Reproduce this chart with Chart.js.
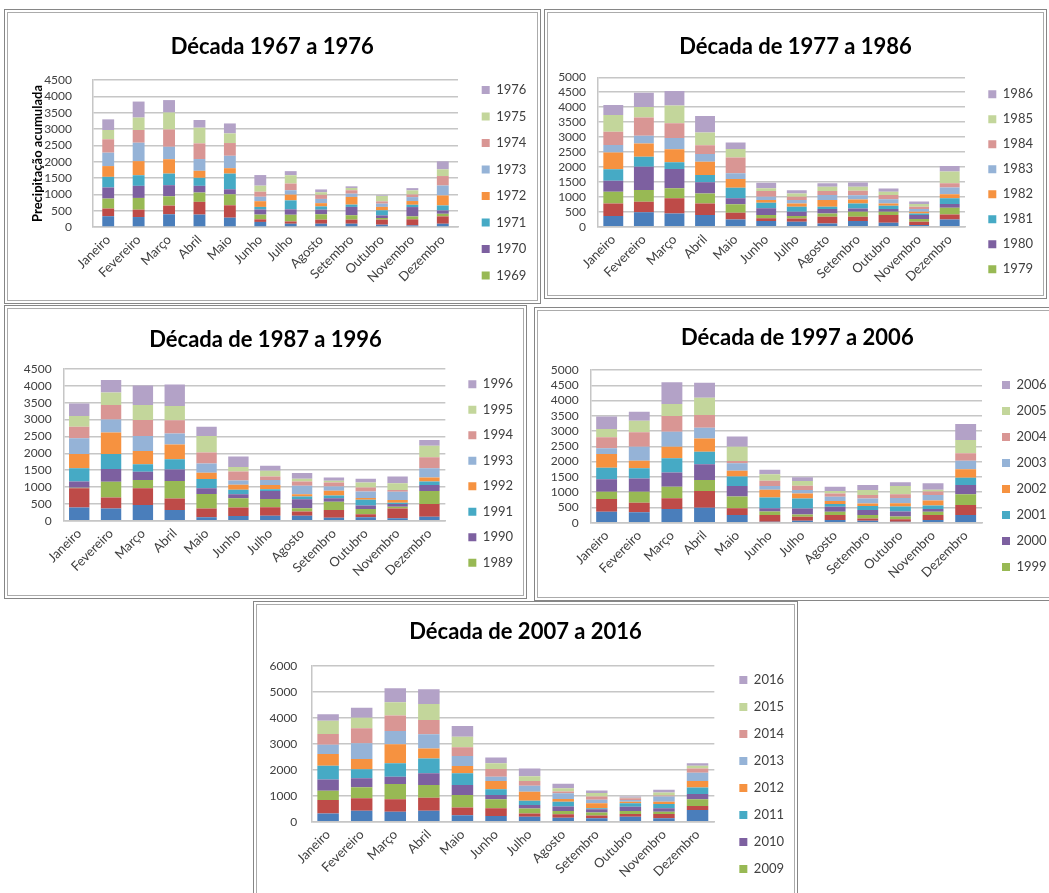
<!DOCTYPE html>
<html>
<head>
<meta charset="utf-8">
<title>Precipitação acumulada por década</title>
<script src="https://cdn.jsdelivr.net/npm/chart.js@4.4.0/dist/chart.umd.min.js"></script>
<style>
  html, body { margin: 0; padding: 0; background: #fff; overflow: hidden; }
  .panel { position: absolute; box-sizing: border-box; border: 1px solid #868686; padding: 2px; background: #fff; }
  .panel .inner { box-sizing: border-box; width: 100%; height: 100%; border: 1px solid #ababab; }
  canvas { display: block; }
</style>
</head>
<body>
<div class="panel" style="left:4px;top:9px;width:537px;height:295px"><div class="inner"><canvas id="dec1" width="529" height="287"></canvas></div></div>
<div class="panel" style="left:544px;top:9px;width:503px;height:290px"><div class="inner"><canvas id="dec2" width="495" height="282"></canvas></div></div>
<div class="panel" style="left:4px;top:305px;width:523px;height:294px"><div class="inner"><canvas id="dec3" width="515" height="286"></canvas></div></div>
<div class="panel" style="left:534px;top:307px;width:532px;height:294px"><div class="inner"><canvas id="dec4" width="524" height="286"></canvas></div></div>
<div class="panel" style="left:253px;top:601px;width:545px;height:300px"><div class="inner"><canvas id="dec5" width="537" height="292"></canvas></div></div>

<script>
const MONTHS = ['Janeiro', 'Fevereiro', 'Março', 'Abril', 'Maio', 'Junho',
                'Julho', 'Agosto', 'Setembro', 'Outubro', 'Novembro', 'Dezembro'];

const YEARS_1967 = ['1967', '1968', '1969', '1970', '1971', '1972', '1973', '1974', '1975', '1976'];
const YEARS_1977 = ['1977', '1978', '1979', '1980', '1981', '1982', '1983', '1984', '1985', '1986'];
const YEARS_1987 = ['1987', '1988', '1989', '1990', '1991', '1992', '1993', '1994', '1995', '1996'];
const YEARS_1997 = ['1997', '1998', '1999', '2000', '2001', '2002', '2003', '2004', '2005', '2006'];
const YEARS_2007 = ['2007', '2008', '2009', '2010', '2011', '2012', '2013', '2014', '2015', '2016'];

// one row per month, one value per year of the decade (oldest first)
const RAIN_1967 = [
  [330, 235, 305, 340, 325, 330, 410, 410, 285, 325],
  [305, 225, 360, 370, 325, 430, 565, 390, 380, 490],
  [390, 265, 285, 340, 355, 440, 380, 530, 520, 380],
  [380, 390, 285, 205, 245, 215, 360, 480, 480, 235],
  [285, 380, 335, 155, 480, 165, 380, 390, 295, 305],
  [155, 80, 145, 155, 80, 175, 135, 155, 185, 325],
  [100, 70, 205, 165, 275, 175, 135, 205, 255, 125],
  [100, 125, 165, 140, 100, 100, 130, 125, 80, 85],
  [100, 125, 135, 255, 70, 235, 100, 105, 70, 50],
  [70, 155, 50, 80, 155, 105, 100, 70, 165, 20],
  [50, 185, 90, 285, 70, 115, 120, 80, 125, 70],
  [100, 225, 80, 100, 155, 305, 305, 290, 205, 245]
];

const RAIN_1977 = [
  [355, 425, 390, 370, 380, 560, 255, 445, 560, 335],
  [480, 355, 390, 780, 335, 445, 255, 615, 355, 470],
  [445, 505, 335, 650, 225, 435, 370, 500, 590, 490],
  [390, 390, 335, 370, 245, 445, 255, 300, 425, 550],
  [245, 225, 280, 200, 355, 290, 190, 535, 280, 215],
  [190, 90, 110, 225, 190, 90, 110, 190, 90, 190],
  [165, 110, 80, 145, 170, 110, 110, 110, 110, 110],
  [110, 225, 110, 145, 80, 225, 165, 135, 145, 110],
  [190, 145, 165, 110, 165, 135, 145, 145, 135, 145],
  [135, 255, 110, 90, 110, 80, 135, 145, 110, 110],
  [55, 110, 90, 135, 55, 55, 90, 80, 90, 80],
  [245, 165, 225, 125, 190, 135, 225, 145, 390, 190]
];

const RAIN_1987 = [
  [395, 565, 20, 180, 395, 425, 465, 345, 315, 375],
  [365, 325, 465, 375, 445, 645, 385, 425, 375, 365],
  [465, 495, 250, 245, 220, 395, 445, 475, 445, 575],
  [315, 345, 515, 345, 305, 435, 325, 395, 425, 635],
  [100, 265, 425, 170, 275, 190, 275, 325, 485, 275],
  [140, 250, 275, 120, 130, 150, 130, 265, 130, 315],
  [150, 250, 245, 235, 50, 130, 150, 100, 170, 150],
  [150, 120, 100, 265, 80, 70, 250, 130, 80, 170],
  [90, 230, 245, 100, 80, 140, 130, 120, 50, 100],
  [100, 90, 160, 100, 170, 50, 195, 120, 150, 110],
  [70, 295, 50, 80, 40, 80, 245, 50, 200, 200],
  [120, 375, 385, 180, 100, 120, 275, 325, 345, 170]
];

const RAIN_1997 = [
  [360, 415, 240, 405, 380, 450, 185, 360, 275, 405],
  [340, 315, 360, 435, 330, 250, 460, 470, 380, 295],
  [450, 350, 380, 460, 470, 380, 490, 515, 395, 710],
  [490, 545, 360, 515, 415, 435, 350, 415, 570, 490],
  [250, 220, 385, 350, 305, 195, 240, 75, 470, 330],
  [35, 220, 110, 110, 350, 250, 130, 165, 220, 140],
  [65, 130, 75, 195, 330, 165, 110, 140, 155, 120],
  [85, 165, 110, 165, 85, 100, 140, 110, 75, 145],
  [65, 75, 110, 165, 130, 85, 165, 110, 165, 165],
  [35, 75, 90, 165, 165, 110, 165, 130, 270, 120],
  [85, 165, 110, 90, 110, 165, 185, 110, 55, 220],
  [250, 330, 350, 305, 240, 275, 275, 250, 435, 525]
];

const RAIN_2007 = [
  [320, 510, 360, 435, 525, 450, 360, 410, 515, 245],
  [425, 475, 425, 345, 345, 395, 605, 575, 410, 385],
  [385, 475, 590, 280, 515, 730, 515, 590, 515, 535],
  [425, 500, 485, 450, 575, 385, 540, 550, 615, 565],
  [245, 305, 475, 385, 450, 280, 385, 335, 410, 410],
  [220, 295, 345, 165, 220, 320, 165, 295, 220, 220],
  [190, 130, 190, 130, 165, 345, 230, 190, 180, 295],
  [155, 130, 130, 165, 190, 105, 220, 65, 130, 165],
  [130, 105, 115, 130, 40, 190, 130, 130, 130, 100],
  [190, 105, 115, 165, 130, 65, 65, 65, 25, 40],
  [130, 165, 90, 130, 165, 90, 195, 40, 115, 105],
  [450, 155, 255, 205, 255, 245, 320, 165, 105, 90]
];

const SERIES_COLORS = ['#4A7EBB', '#BE4B48', '#98B954', '#7D60A0', '#46AAC5',
                       '#F69240', '#95B3D7', '#D99694', '#C3D69B', '#B3A2C7'];
const FONT = 'Lato, "Open Sans", sans-serif';
const GRID = '#c6c6c6';
const TEXT = '#404040';

function drawDecade(id, s) {
  const canvas = document.getElementById(id);
  const W = canvas.width, H = canvas.height;
  const P = s.spacing - 13;            // legend row = font size + padding
  const legendLeft = s.legendX - P;
  const titleLH = 22 * 1.2;

  // legend width as Chart.js computes it, so the right padding puts it where we want
  const mctx = canvas.getContext('2d');
  mctx.font = '13px ' + FONT;
  const textW = Math.max(...s.years.map(y => mctx.measureText(y).width));
  const legendW = P + 8 + 6.5 + textW + 10;
  const padR = Math.max(0, W - legendLeft - legendW);

  new Chart(canvas, {
    type: 'bar',
    data: {
      labels: MONTHS,
      datasets: s.years.map((year, i) => ({
        label: year,
        data: s.rain.map(row => row[i]),
        backgroundColor: SERIES_COLORS[i],
        borderWidth: 0,
        yAxisID: 'y',
        barPercentage: s.bar,
        categoryPercentage: 1
      }))
    },
    options: {
      responsive: false,
      animation: false,
      devicePixelRatio: 1,
      layout: { padding: { left: 0, right: padR, top: 0, bottom: 0 } },
      plugins: {
        tooltip: { enabled: false },
        title: {
          display: true,
          text: s.title,
          color: '#000',
          font: { family: FONT, size: 22, weight: 'bold' },
          padding: { top: s.titleY - titleLH / 2, bottom: s.area.top - s.titleY - titleLH / 2 }
        },
        legend: {
          position: 'right',
          align: 'start',
          reverse: true,
          title: { display: true, text: '', font: { size: 10 },
                   padding: { top: s.legendY - 6.5 - P - 12, bottom: 0 } },
          labels: {
            boxWidth: 8,
            boxHeight: 8,
            padding: P,
            color: TEXT,
            font: { family: FONT, size: 13 },
            filter: item => item.datasetIndex >= 2
          }
        }
      },
      scales: {
        x: {
          stacked: true,
          grid: { display: false, drawTicks: false },
          border: { display: true, color: GRID, width: 1.5 },
          ticks: { color: TEXT, font: { family: FONT, size: 13 }, minRotation: 45, maxRotation: 45,
                   autoSkip: false, padding: 5 },
          afterFit: sc => { sc.height = H - s.area.bottom; }
        },
        y: {
          stacked: true,
          min: 0,
          max: s.max,
          ticks: { stepSize: s.step, autoSkip: false, color: TEXT, font: { family: FONT, size: 12 },
                   padding: s.tickPad, callback: v => String(v) },
          grid: { color: GRID, lineWidth: 1.5, drawTicks: false },
          border: { display: true, color: GRID, width: 1.5 },
          title: s.yTitle
            ? { display: true, text: s.yTitle, color: '#000',
                font: { family: FONT, size: 13, weight: 'bold' }, padding: { top: 22.5, bottom: 0 } }
            : { display: false },
          afterFit: sc => { sc.width = s.area.left; }
        },
        gap: {
          position: 'right',
          display: true,
          grid: { display: false },
          border: { display: false },
          ticks: { display: false },
          afterFit: sc => { sc.width = legendLeft - s.area.right; }
        }
      }
    }
  });
}

drawDecade('dec1', {
  title: 'Década 1967 a 1976', years: YEARS_1967, rain: RAIN_1967, max: 4500, step: 500,
  yTitle: 'Precipitação acumulada',
  area: { left: 85, right: 450, top: 67, bottom: 214 }, titleY: 34,
  legendX: 473.7, legendY: 77, spacing: 26.5, tickPad: 21, bar: 0.39
});
drawDecade('dec2', {
  title: 'Década de 1977 a 1986', years: YEARS_1977, rain: RAIN_1977, max: 5000, step: 500,
  area: { left: 50, right: 417, top: 64.3, bottom: 213.7 }, titleY: 34,
  legendX: 440.3, legendY: 81.3, spacing: 25, tickPad: 12, bar: 0.65
});
drawDecade('dec3', {
  title: 'Década de 1987 a 1996', years: YEARS_1987, rain: RAIN_1987, max: 4500, step: 500,
  area: { left: 55.3, right: 439, top: 60, bottom: 211.7 }, titleY: 31,
  legendX: 462, legendY: 75.3, spacing: 25.5, tickPad: 11.7, bar: 0.64
});
drawDecade('dec4', {
  title: 'Década de 1997 a 2006', years: YEARS_1997, rain: RAIN_1997, max: 5000, step: 500,
  area: { left: 52.3, right: 444, top: 59, bottom: 211.7 }, titleY: 27,
  legendX: 464, legendY: 74, spacing: 26, tickPad: 11.7, bar: 0.64
});
drawDecade('dec5', {
  title: 'Década de 2007 a 2016', years: YEARS_2007, rain: RAIN_2007, max: 6000, step: 1000,
  area: { left: 54.3, right: 458, top: 60.7, bottom: 216.7 }, titleY: 27,
  legendX: 483, legendY: 75, spacing: 27, tickPad: 14, bar: 0.64
});
</script>
</body>
</html>
